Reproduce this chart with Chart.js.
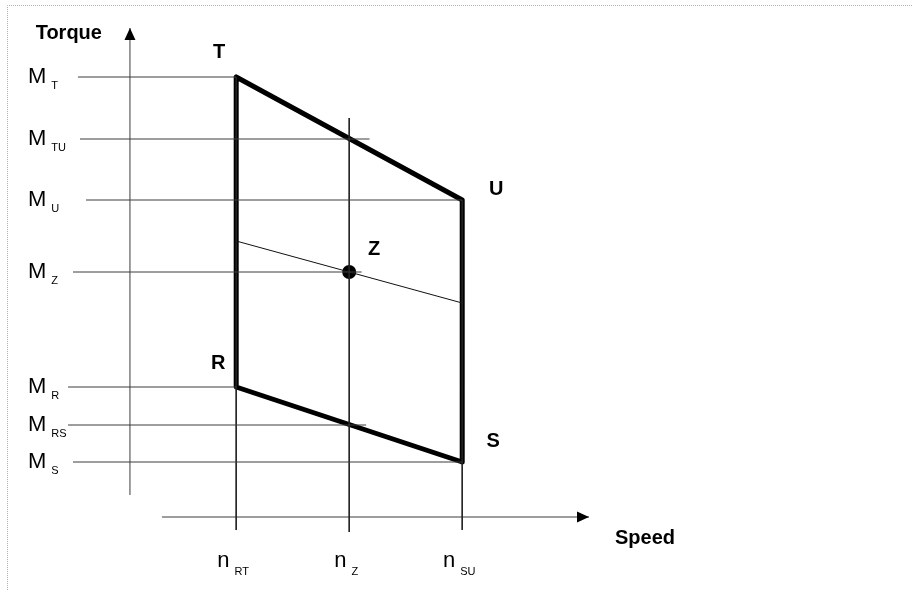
<!DOCTYPE html>
<html>
<head>
<meta charset="utf-8">
<script src="https://cdn.jsdelivr.net/npm/chart.js@4/dist/chart.umd.min.js"></script>
<style>
  html, body { margin: 0; padding: 0; background: #fff; }
  #wrap { width: 912px; height: 590px; position: relative; }
</style>
</head>
<body>
<div id="wrap"><canvas id="c" width="912" height="590"></canvas></div>
<script>
// ---- Data (speed / torque units) ----
const speedNames   = ['RT', 'Z', 'SU'];
const speedValues  = [100, 200, 300];
const speedGuideTop    = [110, 99.75, 79.25];
const speedGuideBottom = [-3.25, -3.75, -3.25];

const torqueNames  = ['T', 'TU', 'U', 'Z', 'R', 'RS', 'S'];
const torqueValues = [110, 94.5, 79.25, 61.25, 32.5, 23, 13.75];
const torqueGuideStart = [-40, -38.2, -32.9, -44.4, -48.8, -48.8, -44.4];
const torqueGuideEnd   = [100, 218, 300, 211, 100, 215, 300];

const cornerNames  = ['T', 'U', 'S', 'R'];
const cornerSpeed  = [100, 300, 300, 100];
const cornerTorque = [110, 79.25, 13.75, 32.5];

const pointZName   = 'Z';
const pointZSpeed  = 200;
const pointZTorque = 61.25;

const loadLineSpeed  = [100, 300];
const loadLineTorque = [69, 53.5];

const yAxisSpeed = 6, yAxisFrom = 5.5, yAxisTo = 122.25;
const xAxisTorque = 0, xAxisFrom = 34.3, xAxisTo = 412.2;

const yAxisTitle = 'Torque';
const xAxisTitle = 'Speed';

// ---- Build datasets ----
const FONT = '"Liberation Sans", Arial, sans-serif';
const guideColor = '#3c3c3c';
const datasets = [];

torqueNames.forEach((n, i) => {
  datasets.push({
    label: 'M_' + n,
    data: [{x: torqueGuideStart[i], y: torqueValues[i]}, {x: torqueGuideEnd[i], y: torqueValues[i]}],
    borderColor: guideColor, borderWidth: 1, pointRadius: 0, showLine: true
  });
});
speedNames.forEach((n, i) => {
  datasets.push({
    label: 'n_' + n,
    data: [{x: speedValues[i], y: speedGuideTop[i]}, {x: speedValues[i], y: speedGuideBottom[i]}],
    borderColor: '#222', borderWidth: 1, pointRadius: 0, showLine: true
  });
});
datasets.push({
  label: 'yAxis', arrow: true,
  data: [{x: yAxisSpeed, y: yAxisFrom}, {x: yAxisSpeed, y: yAxisTo}],
  borderColor: guideColor, borderWidth: 1, pointRadius: 0, showLine: true
});
datasets.push({
  label: 'xAxis', arrow: true,
  data: [{x: xAxisFrom, y: xAxisTorque}, {x: xAxisTo, y: xAxisTorque}],
  borderColor: guideColor, borderWidth: 1, pointRadius: 0, showLine: true
});
datasets.push({
  label: 'load',
  data: loadLineSpeed.map((s, i) => ({x: s, y: loadLineTorque[i]})),
  borderColor: '#111', borderWidth: 1, pointRadius: 0, showLine: true
});
const poly = cornerSpeed.map((s, i) => ({x: s, y: cornerTorque[i]}));
poly.push(poly[0]);
datasets.push({
  label: 'RTUS',
  data: poly,
  borderColor: '#000', borderWidth: 5, pointRadius: 0, showLine: true,
  borderJoinStyle: 'round', borderCapStyle: 'round'
});
datasets.push({
  label: 'Z',
  data: [{x: pointZSpeed, y: pointZTorque}],
  backgroundColor: '#000', borderColor: '#000', borderWidth: 0, pointRadius: 7, showLine: false
});

// ---- Plugin: frame, arrows, text ----
const diagramPlugin = {
  id: 'diagram',
  beforeDraw(chart) {
    const ctx = chart.ctx;
    ctx.save();
    ctx.fillStyle = '#fff';
    ctx.fillRect(0, 0, chart.width, chart.height);
    ctx.strokeStyle = '#b0b0b0';
    ctx.lineWidth = 1;
    ctx.setLineDash([1, 1]);
    ctx.beginPath();
    ctx.moveTo(7.5, chart.height);
    ctx.lineTo(7.5, 5.5);
    ctx.lineTo(chart.width, 5.5);
    ctx.stroke();
    ctx.restore();
  },
  afterDatasetsDraw(chart) {
    const ctx = chart.ctx;
    const xs = chart.scales.x, ys = chart.scales.y;
    const px = v => xs.getPixelForValue(v);
    const py = v => ys.getPixelForValue(v);
    ctx.save();
    // arrows
    chart.data.datasets.forEach(ds => {
      if (!ds.arrow) return;
      const a = ds.data[ds.data.length - 2], b = ds.data[ds.data.length - 1];
      const x1 = px(a.x), y1 = py(a.y), x2 = px(b.x), y2 = py(b.y);
      const ang = Math.atan2(y2 - y1, x2 - x1);
      const len = 12, hw = 5.5;
      ctx.fillStyle = '#000';
      ctx.beginPath();
      ctx.moveTo(x2, y2);
      ctx.lineTo(x2 - len * Math.cos(ang) + hw * Math.sin(ang), y2 - len * Math.sin(ang) - hw * Math.cos(ang));
      ctx.lineTo(x2 - len * Math.cos(ang) - hw * Math.sin(ang), y2 - len * Math.sin(ang) + hw * Math.cos(ang));
      ctx.closePath();
      ctx.fill();
    });

    ctx.fillStyle = '#000';
    ctx.textBaseline = 'alphabetic';
    const yAxisPx = px(yAxisSpeed);
    // torque labels M_x
    torqueNames.forEach((n, i) => {
      const y = py(torqueValues[i]);
      const left = yAxisPx - 102;
      ctx.font = '22px ' + FONT;
      ctx.textAlign = 'left';
      ctx.fillText('M', left, y + 6);
      const w = ctx.measureText('M').width;
      ctx.font = '11px ' + FONT;
      ctx.fillText(n, left + w + 5, y + 12);
    });
    // speed labels n_x
    const xAxisPx = py(xAxisTorque);
    speedNames.forEach((n, i) => {
      const x = px(speedValues[i]);
      ctx.font = '22px ' + FONT;
      const wn = ctx.measureText('n').width;
      ctx.font = '11px ' + FONT;
      const ws = ctx.measureText(n).width;
      const total = wn + 5 + ws;
      const left = x - 3 - total / 2;
      ctx.textAlign = 'left';
      ctx.font = '22px ' + FONT;
      ctx.fillText('n', left, xAxisPx + 50);
      ctx.font = '11px ' + FONT;
      ctx.fillText(n, left + wn + 5, xAxisPx + 58);
    });
    // axis titles
    ctx.font = 'bold 20px ' + FONT;
    ctx.textAlign = 'right';
    ctx.fillText(yAxisTitle, yAxisPx - 28, py(yAxisTo) + 10.5);
    ctx.textAlign = 'left';
    ctx.fillText(xAxisTitle, px(xAxisTo) + 26, xAxisPx + 27);
    // corner labels
    const offs = {T: [-17, -25], U: [34, -11], S: [31, -21], R: [-18, -24]};
    ctx.textAlign = 'center';
    ctx.textBaseline = 'middle';
    cornerNames.forEach((n, i) => {
      const o = offs[n];
      ctx.fillText(n, px(cornerSpeed[i]) + o[0], py(cornerTorque[i]) + o[1]);
    });
    ctx.fillText(pointZName, px(pointZSpeed) + 25, py(pointZTorque) - 23);
    ctx.restore();
  }
};

new Chart(document.getElementById('c'), {
  type: 'scatter',
  data: { datasets },
  options: {
    responsive: false,
    animation: false,
    layout: { padding: 0, autoPadding: false },
    plugins: { legend: { display: false }, tooltip: { enabled: false }, title: { display: false } },
    scales: {
      x: { type: 'linear', display: false, min: -109, max: 698 },
      y: { type: 'linear', display: false, min: -18.25, max: 129.25 }
    },
    elements: { line: { tension: 0 } }
  },
  plugins: [diagramPlugin]
});
</script>
</body>
</html>
